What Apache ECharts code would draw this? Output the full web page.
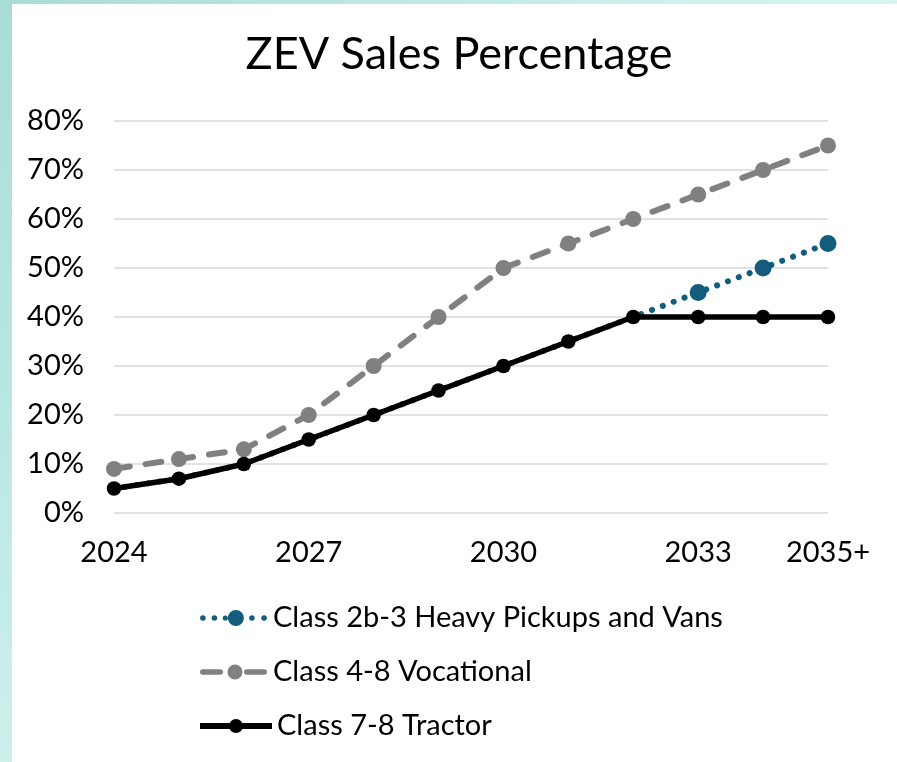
<!DOCTYPE html>
<html>
<head>
<meta charset="utf-8">
<script src="https://cdn.jsdelivr.net/npm/echarts@6/dist/echarts.min.js"></script>
<style>
html,body{margin:0;padding:0;}
#chart{width:897px;height:762px;}
</style>
</head>
<body>
<div id="chart"></div>
<script>
const titleText = 'ZEV Sales Percentage';
const years = ['2024','2025','2026','2027','2028','2029','2030','2031','2032','2033','2034','2035+'];
const seriesNames = ['Class 2b-3 Heavy Pickups and Vans','Class 4-8 Vocational','Class 7-8 Tractor'];
const pickups    = [5, 7, 10, 15, 20, 25, 30, 35, 40, 45, 50, 55];
const vocational = [9, 11, 13, 20, 30, 40, 50, 55, 60, 65, 70, 75];
const tractor    = [5, 7, 10, 15, 20, 25, 30, 35, 40, 40, 40, 40];
const pickupsFirstMarker = 9; // markers shown from 2033 on (earlier ones lie under the tractor line)
const yMin = 0, yMax = 80, yStep = 10;

const FONT = 'Lato';
const COLORS = ['#135c7e', '#808080', '#000000'];

// legend icon shapes (drawn in a local box, scaled by the legend)
function circ(cx, cy, r) {
  return 'M' + (cx - r) + ' ' + cy + ' A' + r + ' ' + r + ' 0 1 1 ' + (cx + r) + ' ' + cy +
         ' A' + r + ' ' + r + ' 0 1 1 ' + (cx - r) + ' ' + cy + ' Z ';
}
function rrect(x1, x2, cy, h) {
  const r = h / 2;
  return 'M' + (x1 + r) + ' ' + (cy - r) + ' L' + (x2 - r) + ' ' + (cy - r) +
         ' A' + r + ' ' + r + ' 0 0 1 ' + (x2 - r) + ' ' + (cy + r) +
         ' L' + (x1 + r) + ' ' + (cy + r) +
         ' A' + r + ' ' + r + ' 0 0 1 ' + (x1 + r) + ' ' + (cy - r) + ' Z ';
}
function rect(x1, x2, cy, h) {
  const r = h / 2;
  return 'M' + x1 + ' ' + (cy - r) + ' L' + x2 + ' ' + (cy - r) + ' L' + x2 + ' ' + (cy + r) + ' L' + x1 + ' ' + (cy + r) + ' Z ';
}
const iconPickups = 'path://' + circ(3, 8, 2.8) + circ(14.5, 8, 2.8) + circ(25.4, 8, 2.6) + circ(36, 8, 8) + circ(52, 8, 2.8) + circ(64.2, 8, 2.8);
const iconVoc = 'path://' + rrect(0, 23, 8, 5.5) + circ(35, 8, 7.5) + rrect(44, 67, 8, 5.5);
const iconTractor = 'path://' + rect(0, 29.4, 8, 6) + circ(36, 8, 7) + rect(42.6, 72, 8, 6);

const chart = echarts.init(document.getElementById('chart'), null, {renderer:'canvas'});
chart.setOption({
  animation: false,
  backgroundColor: {
    type: 'linear', x: 0, y: 0, x2: 1, y2: 1,
    colorStops: [{offset: 0, color: '#a8dcd5'}, {offset: 0.5, color: '#d2f4ef'}, {offset: 1, color: '#eefdfb'}]
  },
  graphic: [{type: 'rect', z: -10, silent: true, shape: {x: 12, y: 4, width: 885, height: 758}, style: {fill: '#ffffff'}}],
  title: {
    text: titleText, left: 454, top: 27, textAlign: 'center',
    textStyle: {fontFamily: FONT, fontWeight: 'normal', fontSize: 45, color: '#000'}
  },
  legend: [
    {
      orient: 'vertical', left: 195, top: 598,
      itemWidth: 67, itemHeight: 16, itemGap: 24,
      textStyle: {fontFamily: FONT, fontSize: 29, color: '#000', lineHeight: 30, padding: [0,0,0,1]},
      data: [
        {name: seriesNames[0], icon: iconPickups, itemStyle: {color: COLORS[0]}},
        {name: seriesNames[1], icon: iconVoc, itemStyle: {color: COLORS[1]}}
      ]
    },
    {
      orient: 'vertical', left: 195, top: 706,
      itemWidth: 72, itemHeight: 16, itemGap: 24,
      textStyle: {fontFamily: FONT, fontSize: 29, color: '#000', lineHeight: 30, padding: [0,0,0,0]},
      data: [
        {name: seriesNames[2], icon: iconTractor, itemStyle: {color: COLORS[2]}}
      ]
    }
  ],
  grid: {left: 114, right: 69, top: 121, bottom: 249},
  xAxis: {
    type: 'category', data: years, boundaryGap: false,
    axisLine: {show: false}, axisTick: {show: false},
    axisLabel: {
      fontFamily: FONT, fontSize: 29, color: '#000', margin: 25,
      interval: function (i) { return i % 3 === 0 || i === years.length - 1; }
    },
    splitLine: {show: false}
  },
  yAxis: {
    type: 'value', min: yMin, max: yMax, interval: yStep,
    axisLine: {show: false}, axisTick: {show: false},
    axisLabel: {fontFamily: FONT, fontSize: 29, color: '#000', margin: 30, formatter: '{value}%'},
    splitLine: {lineStyle: {color: '#e2e2e2', width: 2}}
  },
  series: [
    {
      name: seriesNames[0], type: 'line', z: 2,
      data: pickups,
      symbol: 'circle',
      symbolSize: function (v, p) { return p.dataIndex >= pickupsFirstMarker ? 17 : 0; },
      itemStyle: {color: COLORS[0]},
      lineStyle: {color: COLORS[0], width: 6, type: [0.1, 11.5], cap: 'round'}
    },
    {
      name: seriesNames[1], type: 'line', z: 3,
      data: vocational,
      symbol: 'circle', symbolSize: 16,
      itemStyle: {color: COLORS[1]},
      lineStyle: {color: COLORS[1], width: 6, type: [16, 16], cap: 'round'}
    },
    {
      name: seriesNames[2], type: 'line', z: 4,
      data: tractor,
      symbol: 'circle', symbolSize: 14.5,
      itemStyle: {color: COLORS[2]},
      lineStyle: {color: COLORS[2], width: 5.5}
    }
  ]
});
</script>
</body>
</html>
